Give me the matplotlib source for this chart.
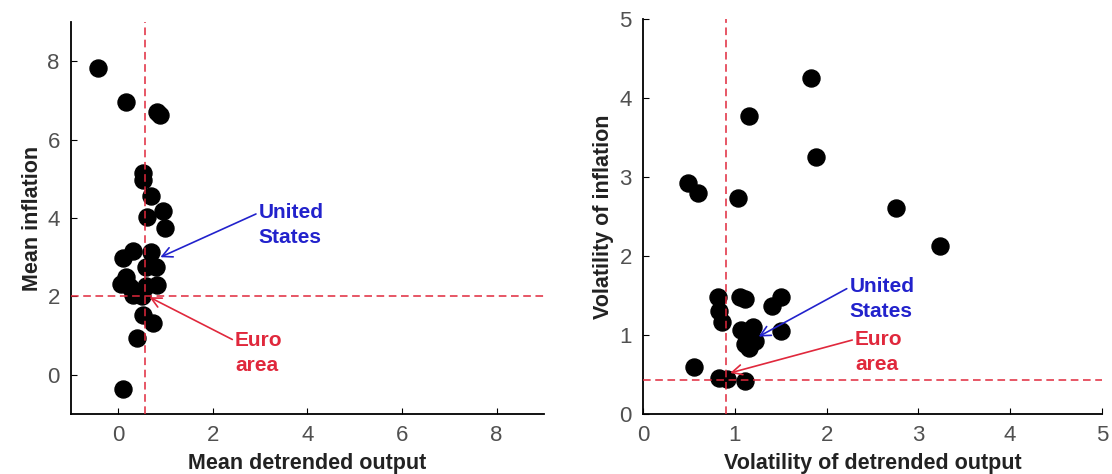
import matplotlib
matplotlib.use("Agg")
import matplotlib.pyplot as plt

plt.rcParams['font.family'] = ['Liberation Sans', 'DejaVu Sans']

# left panel: mean detrended output vs mean inflation
mean_output = [-0.43, 0.17, 0.81, 0.89, 0.53, 0.53, 0.69, 0.94, 0.60, 0.99,
               0.31, 0.09, 0.69, 0.80, 0.59, 0.16, 0.06, 0.25, 0.81, 0.58,
               0.31, 0.51, 0.53, 0.73, 0.39, 0.10]
mean_inflation = [7.83, 6.96, 6.71, 6.62, 5.14, 4.97, 4.57, 4.19, 4.03, 3.74,
                  3.17, 2.98, 3.14, 2.76, 2.76, 2.50, 2.32, 2.24, 2.28, 2.26,
                  2.04, 2.00, 1.52, 1.33, 0.95, -0.37]

# right panel: volatility of detrended output vs volatility of inflation
vol_output = [1.83, 1.15, 1.89, 0.49, 0.60, 1.04, 2.76, 3.24, 0.82, 0.83,
              0.86, 1.06, 1.11, 1.50, 1.41, 1.50, 1.07, 1.20, 1.11, 1.22,
              1.15, 0.56, 0.83, 0.92, 1.11]
vol_inflation = [4.25, 3.77, 3.26, 2.93, 2.80, 2.74, 2.61, 2.13, 1.48, 1.30,
                 1.16, 1.48, 1.46, 1.48, 1.37, 1.05, 1.06, 1.10, 0.89, 0.93,
                 0.84, 0.59, 0.45, 0.44, 0.42]

# euro area reference lines and annotation targets
euro_left = (0.57, 2.0)
us_left = (0.89, 3.0)
euro_right = (0.90, 0.43)
us_right = (1.26, 0.98)

red = '#e0283c'
blue = '#2222cc'

fig = plt.figure(figsize=(11.12, 4.74), dpi=100)
ax1 = fig.add_axes([0.0638, 0.1266, 0.4254, 0.827])
ax2 = fig.add_axes([0.5782, 0.1266, 0.4128, 0.833])


def style_axes(ax):
    for side in ('top', 'right'):
        ax.spines[side].set_visible(False)
    for side in ('left', 'bottom'):
        ax.spines[side].set_linewidth(1.3)
    ax.tick_params(direction='in', length=4, labelsize=16, labelcolor='#505050',
                   pad=8)


def annotate(ax, label, color, target, text_pos):
    ax.annotate(label, xy=target, xytext=text_pos, color=color,
                fontsize=15, fontweight='bold', ha='left', va='center',
                linespacing=1.4,
                arrowprops=dict(arrowstyle='->', color=color, lw=1.2,
                                shrinkA=0, shrinkB=0,
                                mutation_scale=18,
                                relpos=(0, 0.78)))


# left
ax1.scatter(mean_output, mean_inflation, s=150, color='black', zorder=2)
ax1.axvline(euro_left[0], color=red, ls=(0, (5, 3)), lw=1.1, zorder=3)
ax1.axhline(euro_left[1], color=red, ls=(0, (5, 3)), lw=1.1, zorder=3)
ax1.set_xlim(-1, 9)
ax1.set_ylim(-1, 9)
ax1.set_xticks([0, 2, 4, 6, 8])
ax1.set_yticks([0, 2, 4, 6, 8])
style_axes(ax1)
ax1.set_xlabel('Mean detrended output', fontsize=15.5, fontweight='bold',
               color='#222222', labelpad=5)
ax1.set_ylabel('Mean inflation', fontsize=15.5, fontweight='bold',
               color='#222222', labelpad=3)
annotate(ax1, 'United\nStates', blue, us_left, (2.97, 3.82))
annotate(ax1, 'Euro\narea', red, (0.66, 1.98), (2.47, 0.55))

# right
ax2.scatter(vol_output, vol_inflation, s=150, color='black', zorder=2)
ax2.axvline(euro_right[0], color=red, ls=(0, (5, 3)), lw=1.1, zorder=3)
ax2.axhline(euro_right[1], color=red, ls=(0, (5, 3)), lw=1.1, zorder=3)
ax2.set_xlim(0, 5)
ax2.set_ylim(0, 5)
ax2.set_xticks([0, 1, 2, 3, 4, 5])
ax2.set_yticks([0, 1, 2, 3, 4, 5])
style_axes(ax2)
ax2.set_xlabel('Volatility of detrended output', fontsize=15.5,
               fontweight='bold', color='#222222', labelpad=5)
ax2.set_ylabel('Volatility of inflation', fontsize=15.5, fontweight='bold',
               color='#222222', labelpad=4)
annotate(ax2, 'United\nStates', blue, us_right, (2.25, 1.45))
annotate(ax2, 'Euro\narea', red, (0.95, 0.52), (2.31, 0.79))

fig.savefig('out.png', dpi=100)
